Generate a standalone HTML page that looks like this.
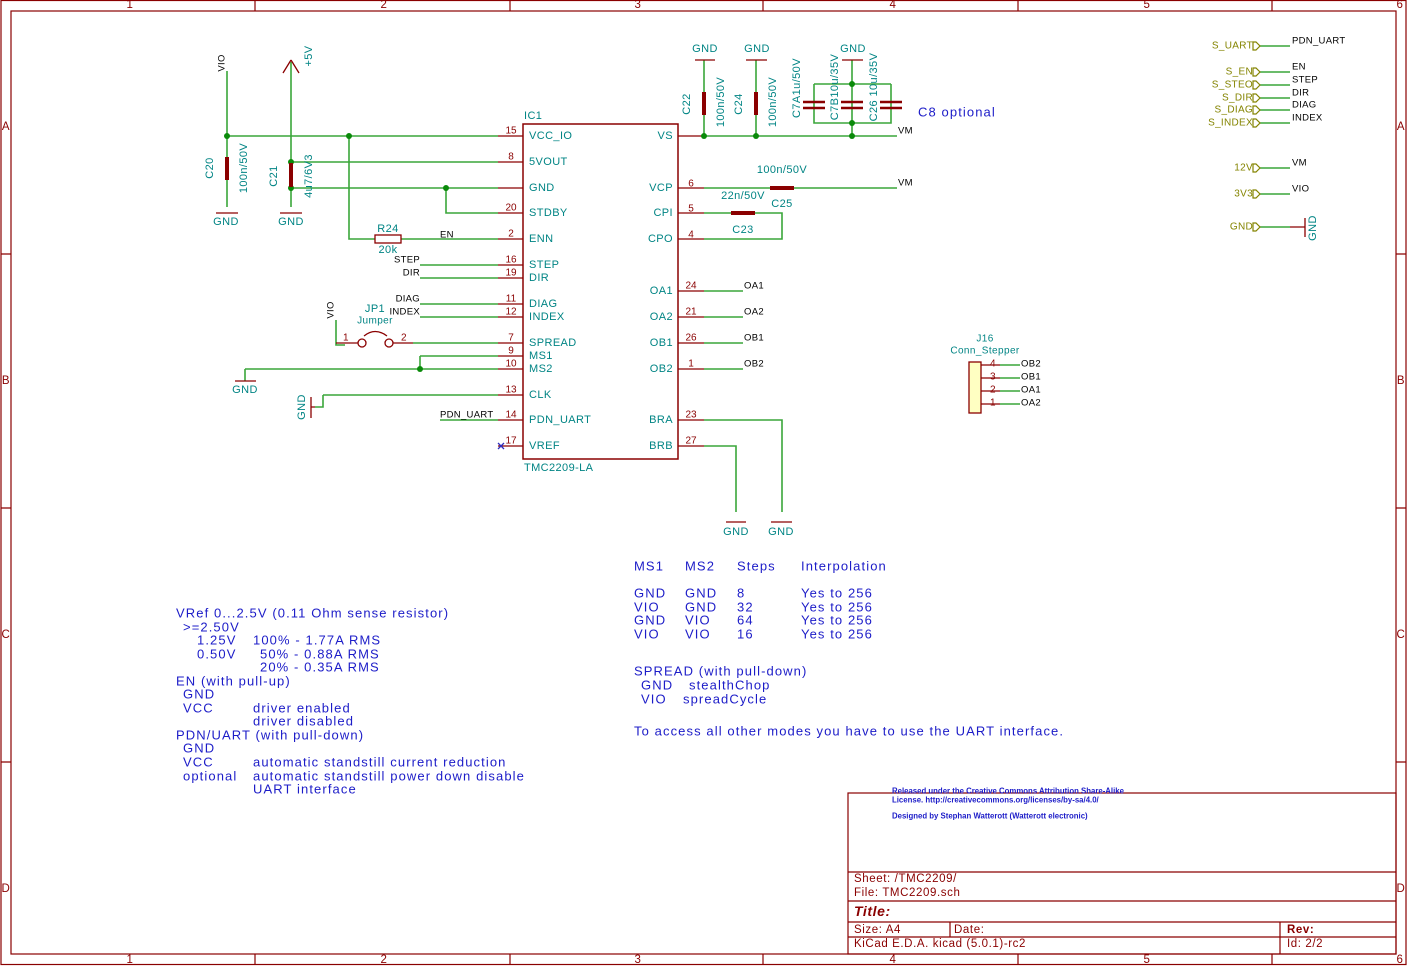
<!DOCTYPE html>
<html><head><meta charset="utf-8"><style>
html,body{margin:0;padding:0;background:#fff}
svg{display:block}
text{font-family:"Liberation Sans",sans-serif;dominant-baseline:central}
.w{stroke:#3aa63a;stroke-width:1.6;fill:none}
.r{stroke:#8a0000;stroke-width:1.3;fill:none}
.rb{stroke:#8a0000;stroke-width:4;fill:none}
.t{fill:#008484;font-size:11px;letter-spacing:0.4px}
.k{fill:#000;font-size:9.5px;letter-spacing:0.3px}
.n{fill:#8a0000;font-size:10px}
.b{fill:#1c1cc8;font-size:13px;letter-spacing:1.1px;white-space:pre}
.h{fill:#848400;font-size:10px;letter-spacing:0.3px}
.tb{fill:#8a0000;font-size:11.5px;letter-spacing:0.6px;white-space:pre}
.d{fill:#0a8a0a}
</style></head><body>
<svg width="1408" height="966" viewBox="0 0 1408 966" xmlns="http://www.w3.org/2000/svg">
<g stroke="#8a0000" stroke-width="1.2" fill="none">
<rect x="1" y="0.5" width="1405" height="964"/>
<rect x="11" y="11" width="1385" height="943"/>
<path d="M255 0V11M510 0V11M763 0V11M1018 0V11M1272 0V11M255 954V965M510 954V965M763 954V965M1018 954V965M1272 954V965M1 254H11M1 508H11M1 762H11M1396 254H1406M1396 508H1406M1396 762H1406"/>
</g>
<g class="tb" font-size="10" text-anchor="middle">
<text x="130" y="5">1</text><text x="384" y="5">2</text><text x="638" y="5">3</text><text x="893" y="5">4</text><text x="1147" y="5">5</text><text x="1400" y="5">6</text>
<text x="130" y="960">1</text><text x="384" y="960">2</text><text x="638" y="960">3</text><text x="893" y="960">4</text><text x="1147" y="960">5</text><text x="1400" y="960">6</text>
<text x="6" y="127">A</text><text x="6" y="381">B</text><text x="6" y="635">C</text><text x="6" y="889">D</text>
<text x="1401" y="127">A</text><text x="1401" y="381">B</text><text x="1401" y="635">C</text><text x="1401" y="889">D</text>
</g>

<rect x="523" y="124" width="155" height="335" fill="none" stroke="#8a0000" stroke-width="1.5"/>
<text class="t" x="524" y="116">IC1</text>
<text class="t" x="524" y="468">TMC2209-LA</text>
<g class="r">
<path d="M498 136H523M498 162H523M498 188H523M498 213H523M498 239H523M498 265H523M498 278H523M498 304H523M498 317H523M498 343H523M498 356H523M498 369H523M498 395H523M498 420H523M498 446H523"/>
<path d="M678 136H704M678 188H704M678 213H704M678 239H704M678 291H704M678 317H704M678 343H704M678 369H704M678 420H704M678 446H704"/>
</g>
<g class="t" font-size="9.5">
<text x="529" y="136">VCC_IO</text><text x="529" y="162">5VOUT</text><text x="529" y="188">GND</text><text x="529" y="213">STDBY</text><text x="529" y="239">ENN</text><text x="529" y="265">STEP</text><text x="529" y="278">DIR</text><text x="529" y="304">DIAG</text><text x="529" y="317">INDEX</text><text x="529" y="343">SPREAD</text><text x="529" y="356">MS1</text><text x="529" y="369">MS2</text><text x="529" y="395">CLK</text><text x="529" y="420">PDN_UART</text><text x="529" y="446">VREF</text>
</g>
<g class="t" font-size="9.5" text-anchor="end">
<text x="673" y="136">VS</text><text x="673" y="188">VCP</text><text x="673" y="213">CPI</text><text x="673" y="239">CPO</text><text x="673" y="291">OA1</text><text x="673" y="317">OA2</text><text x="673" y="343">OB1</text><text x="673" y="369">OB2</text><text x="673" y="420">BRA</text><text x="673" y="446">BRB</text>
</g>
<g class="n" text-anchor="middle">
<text x="511" y="131">15</text><text x="511" y="157">8</text><text x="511" y="208">20</text><text x="511" y="234">2</text><text x="511" y="260">16</text><text x="511" y="273">19</text><text x="511" y="299">11</text><text x="511" y="312">12</text><text x="511" y="338">7</text><text x="511" y="351">9</text><text x="511" y="364">10</text><text x="511" y="390">13</text><text x="511" y="415">14</text><text x="511" y="441">17</text>
<text x="691" y="184">6</text><text x="691" y="209">5</text><text x="691" y="235">4</text><text x="691" y="286">24</text><text x="691" y="312">21</text><text x="691" y="338">26</text><text x="691" y="364">1</text><text x="691" y="415">23</text><text x="691" y="441">27</text>
</g>

<g class="w">
<path d="M227 71V157M227 180V207"/>
<path d="M227 136H498M349 136V239H375M401 239H498"/>
<path d="M291 62V207M291 162H498M291 188H498M446 188V213H498"/>
<path d="M420 265H498M420 278H498M420 304H498M420 317H498"/>
<path d="M336 320V345H345M413 343H498"/>
<path d="M420 356H498M420 356V369M245 369H498M245 369V381"/>
<path d="M323 395H498M323 395V407H315"/>
<path d="M440 420H498"/>
<path d="M704 136H897M704 60V92M704 115V136M756 60V92M756 115V136M852 60V136M814 84H891M814 84V123H891V84M852 84V123"/>
<path d="M704 188H770M794 188H897"/>
<path d="M704 213H731M755 213H782V239H704"/>
<path d="M704 291H743M704 317H743M704 343H743M704 369H743"/>
<path d="M704 420H782V512M704 446H736V512"/>
<path d="M1000 365H1020M1000 378H1020M1000 391H1020M1000 404H1020"/>
<path d="M1260 46H1290M1260 72H1290M1260 85H1290M1260 98H1290M1260 110H1290M1260 123H1290M1260 168H1290M1260 194H1290M1260 227H1290"/>
</g>
<g class="d">
<circle cx="227" cy="136" r="3"/><circle cx="349" cy="136" r="3"/><circle cx="291" cy="162" r="3"/><circle cx="291" cy="188" r="3"/><circle cx="446" cy="188" r="3"/><circle cx="420" cy="369" r="3"/>
<circle cx="704" cy="136" r="3"/><circle cx="756" cy="136" r="3"/><circle cx="852" cy="136" r="3"/><circle cx="852" cy="84" r="3"/><circle cx="852" cy="123" r="3"/>
</g>
<g class="r">
<path d="M216 213H238M280 213H302M235 381H256M695 60H715M746 60H767M842 60H863M726 522H746M771 522H792"/>
<path d="M311 397V418M311 407H315"/>
<path d="M291 60L283 73M291 60L299 73"/>
<rect x="375" y="235" width="26" height="8"/>
<path d="M336 343H358M393 343H413"/>
<circle cx="362" cy="343" r="4"/><circle cx="389" cy="343" r="4"/>
<path d="M364 336Q375 327 387 336"/>
<path d="M1290 227H1305M1305 218V237"/>
<path d="M981 365H1000M981 378H1000M981 391H1000M981 404H1000"/>
<path d="M498 443l6 6M504 443l-6 6" stroke="#3030c0"/>
</g>
<g class="rb">
<path d="M227 157V180M291 163V187M704 92V115M756 92V115M770 188H794M731 213H755"/>
<path d="M803 102H825M803 108H825M841 102H863M841 108H863M880 102H902M880 108H902" stroke-width="2.6"/>
</g>
<rect x="969" y="362" width="12" height="51" fill="#ffffc2" stroke="#8a0000" stroke-width="1.3"/>
<g stroke="#848400" stroke-width="1.2" fill="none">
<path d="M1253 42h3l4 4l-4 4h-3z M1253 68h3l4 4l-4 4h-3z M1253 81h3l4 4l-4 4h-3z M1253 94h3l4 4l-4 4h-3z M1253 106h3l4 4l-4 4h-3z M1253 119h3l4 4l-4 4h-3z M1253 164h3l4 4l-4 4h-3z M1253 190h3l4 4l-4 4h-3z M1253 223h3l4 4l-4 4h-3z"/>
</g>
<g class="h" text-anchor="end">
<text x="1253" y="46">S_UART</text><text x="1253" y="72">S_EN</text><text x="1253" y="85">S_STEO</text><text x="1253" y="98">S_DIR</text><text x="1253" y="110">S_DIAG</text><text x="1253" y="123">S_INDEX</text><text x="1253" y="168">12V</text><text x="1253" y="194">3V3</text><text x="1253" y="227">GND</text>
</g>
<g class="k">
<text x="1292" y="41">PDN_UART</text><text x="1292" y="67">EN</text><text x="1292" y="80">STEP</text><text x="1292" y="93">DIR</text><text x="1292" y="105">DIAG</text><text x="1292" y="118">INDEX</text><text x="1292" y="163">VM</text><text x="1292" y="189">VIO</text>
<text x="898" y="131">VM</text><text x="898" y="183">VM</text>
<text x="744" y="286">OA1</text><text x="744" y="312">OA2</text><text x="744" y="338">OB1</text><text x="744" y="364">OB2</text>
<text x="1021" y="364">OB2</text><text x="1021" y="377">OB1</text><text x="1021" y="390">OA1</text><text x="1021" y="403">OA2</text>
<text x="440" y="235">EN</text>
<text x="420" y="260" text-anchor="end">STEP</text><text x="420" y="273" text-anchor="end">DIR</text><text x="420" y="299" text-anchor="end">DIAG</text><text x="420" y="312" text-anchor="end">INDEX</text>
<text x="440" y="415">PDN_UART</text>
<text transform="translate(222,63) rotate(-90)" text-anchor="middle">VIO</text>
<text transform="translate(331,310) rotate(-90)" text-anchor="middle">VIO</text>
</g>
<g class="n" font-size="9.5"><text x="990" y="364">4</text><text x="990" y="377">3</text><text x="990" y="390">2</text><text x="990" y="403">1</text><text x="343" y="338">1</text><text x="401" y="338">2</text></g>
<g class="t" text-anchor="middle">
<text x="226" y="222">GND</text><text x="291" y="222">GND</text><text x="245" y="390">GND</text>
<text x="705" y="49">GND</text><text x="757" y="49">GND</text><text x="853" y="49">GND</text>
<text x="736" y="532">GND</text><text x="781" y="532">GND</text>
<text x="388" y="229">R24</text><text x="388" y="250">20k</text>
<text x="375" y="309">JP1</text><text x="375" y="321" font-size="10">Jumper</text>
<text x="782" y="170">100n/50V</text><text x="782" y="204">C25</text>
<text x="743" y="196">22n/50V</text><text x="743" y="230">C23</text>
<text x="985" y="339" font-size="10">J16</text><text x="985" y="351" font-size="10">Conn_Stepper</text>
<text transform="translate(210,168) rotate(-90)">C20</text>
<text transform="translate(244,168) rotate(-90)">100n/50V</text>
<text transform="translate(274,176) rotate(-90)">C21</text>
<text transform="translate(309,176) rotate(-90)">4u7/6V3</text>
<text transform="translate(309,56) rotate(-90)">+5V</text>
<text transform="translate(302,407) rotate(-90)">GND</text>
<text transform="translate(1313,228) rotate(-90)">GND</text>
<text transform="translate(687,104) rotate(-90)">C22</text>
<text transform="translate(721,102) rotate(-90)">100n/50V</text>
<text transform="translate(739,104) rotate(-90)">C24</text>
<text transform="translate(773,102) rotate(-90)">100n/50V</text>
<text transform="translate(797,88) rotate(-90)">C7A1u/50V</text>
<text transform="translate(835,87) rotate(-90)">C7B10u/35V</text>
<text transform="translate(874,87) rotate(-90)">C26 10u/35V</text>
</g>
<text class="b" x="918" y="112" font-size="12">C8 optional</text>

<g class="b">
<text x="176" y="613">VRef 0...2.5V (0.11 Ohm  sense resistor)</text>
<text x="183" y="627">&gt;=2.50V</text>
<text x="197" y="640">1.25V</text><text x="253" y="640">100% - 1.77A RMS</text>
<text x="197" y="654">0.50V</text><text x="260" y="654">50% - 0.88A RMS</text>
<text x="260" y="667">20% - 0.35A RMS</text>
<text x="176" y="681">EN (with pull-up)</text>
<text x="183" y="694">GND</text>
<text x="183" y="708">VCC</text><text x="253" y="708">driver enabled</text>
<text x="253" y="721">driver disabled</text>
<text x="176" y="735">PDN/UART (with pull-down)</text>
<text x="183" y="748">GND</text>
<text x="183" y="762">VCC</text><text x="253" y="762">automatic standstill current reduction</text>
<text x="183" y="776">optional</text><text x="253" y="776">automatic standstill power down disable</text>
<text x="253" y="789">UART interface</text>
<text x="634" y="566">MS1</text><text x="685" y="566">MS2</text><text x="737" y="566">Steps</text><text x="801" y="566">Interpolation</text>
<text x="634" y="593">GND</text><text x="685" y="593">GND</text><text x="737" y="593">8</text><text x="801" y="593">Yes to 256</text>
<text x="634" y="607">VIO</text><text x="685" y="607">GND</text><text x="737" y="607">32</text><text x="801" y="607">Yes to 256</text>
<text x="634" y="620">GND</text><text x="685" y="620">VIO</text><text x="737" y="620">64</text><text x="801" y="620">Yes to 256</text>
<text x="634" y="634">VIO</text><text x="685" y="634">VIO</text><text x="737" y="634">16</text><text x="801" y="634">Yes to 256</text>
<text x="634" y="671">SPREAD (with pull-down)</text>
<text x="641" y="685">GND</text><text x="689" y="685">stealthChop</text>
<text x="641" y="699">VIO</text><text x="683" y="699">spreadCycle</text>
<text x="634" y="731">To access all other modes you have to use the UART interface.</text>
</g>

<g stroke="#8a0000" stroke-width="1.2" fill="none">
<rect x="848" y="793" width="548" height="161"/>
<path d="M848 872H1396M848 901H1396M848 922H1396M848 937H1396M950 922V937M1280 922V954"/>
</g>
<g fill="#1c1cc8" font-size="7.8" font-weight="bold">
<text x="892" y="791">Released under the Creative Commons Attribution Share-Alike</text>
<text x="892" y="800">License. http://creativecommons.org/licenses/by-sa/4.0/</text>
<text x="892" y="816">Designed by Stephan Watterott (Watterott electronic)</text>
</g>
<g class="tb">
<text x="854" y="879">Sheet: /TMC2209/</text>
<text x="854" y="893">File: TMC2209.sch</text>
<text x="854" y="911" font-size="14" font-weight="bold" font-style="italic">Title:</text>
<text x="854" y="930">Size: A4</text><text x="954" y="930">Date:</text><text x="1287" y="930" font-weight="bold">Rev:</text>
<text x="854" y="944">KiCad E.D.A.  kicad (5.0.1)-rc2</text><text x="1287" y="944">Id: 2/2</text>
</g>
</svg>
</body></html>
